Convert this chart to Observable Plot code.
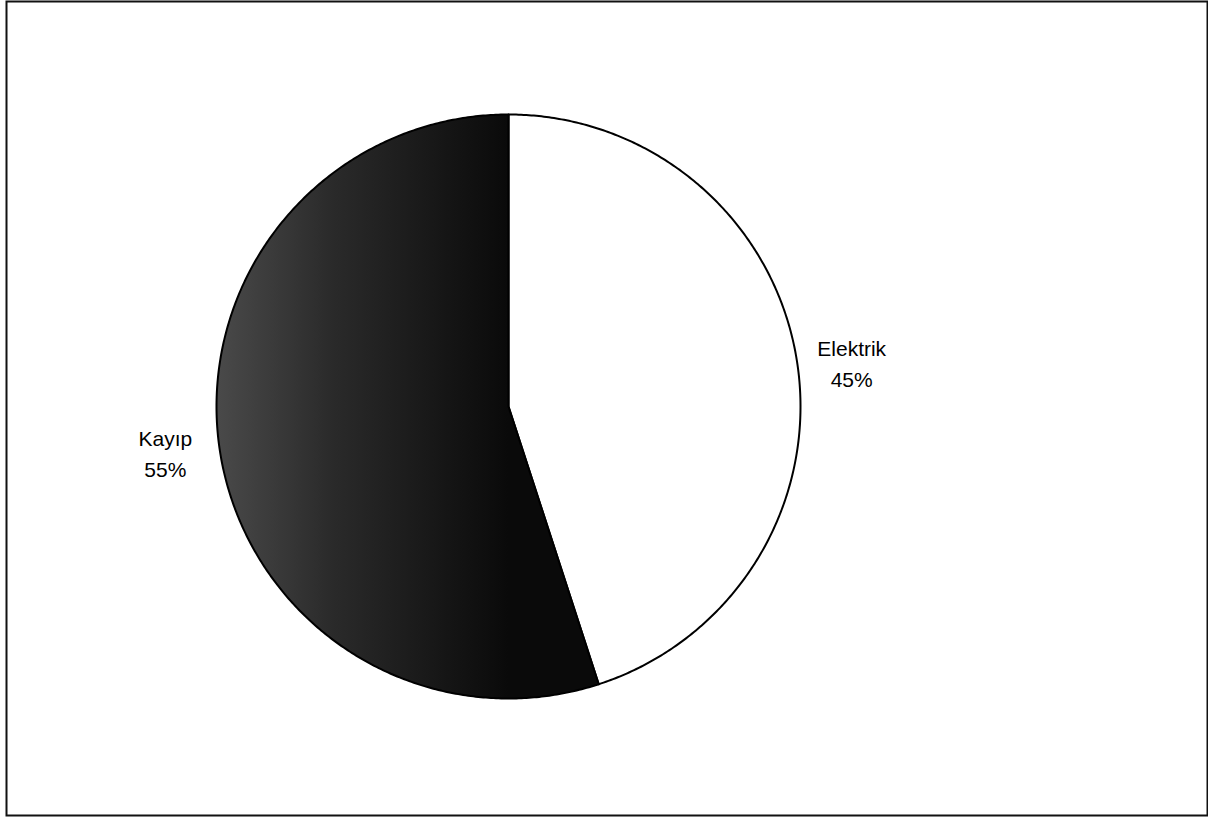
<!DOCTYPE html>
<html>
<head>
<meta charset="utf-8">
<script src="https://cdn.jsdelivr.net/npm/d3@7"></script>
<script src="https://cdn.jsdelivr.net/npm/@observablehq/plot@0.6"></script>
<style>
  html, body { margin: 0; padding: 0; background: #fff; }
  #chart svg { display: block; }
</style>
</head>
<body>
<div id="chart"></div>
<script>
// Data
const categories = ["Elektrik", "Kayıp"];
const values = [45, 55];
const percentLabels = ["45%", "55%"];

// Layout
const W = 1208, H = 817;
const mL = 6, mR = 1, mT = 1, mB = 2;
const cx = 508, cy = 406, R = 292;

const arcs = d3.pie().sort(null).value((d, i) => values[i])(categories);

// Slice outlines (unit-circle geometry from pie angles)
const pts = [];
arcs.forEach((a, i) => {
  const cat = categories[i];
  pts.push({cat, x: 0, y: 0});
  const n = Math.max(2, Math.ceil((a.endAngle - a.startAngle) / (Math.PI / 360)));
  for (let k = 0; k <= n; k++) {
    const t = a.startAngle + (a.endAngle - a.startAngle) * k / n;
    pts.push({cat, x: Math.sin(t), y: Math.cos(t)});
  }
});

const labelRx = 1.19, labelRy = 0.98;
const labelData = arcs.map((a, i) => {
  const m = (a.startAngle + a.endAngle) / 2;
  return {text: categories[i] + "\n" + percentLabels[i], x: labelRx * Math.sin(m), y: labelRy * Math.cos(m)};
});

const chart = Plot.plot({
  width: W, height: H,
  marginLeft: mL, marginRight: mR, marginTop: mT, marginBottom: mB,
  x: {domain: [-(cx - mL) / R, (W - mR - cx) / R], axis: null},
  y: {domain: [-(H - mB - cy) / R, (cy - mT) / R], axis: null},
  color: {type: "ordinal", domain: categories, range: ["#ffffff", "url(#kayipGrad)"]},
  style: {fontFamily: "'Liberation Sans', Arial, sans-serif", background: "#fff"},
  marks: [
    Plot.line(pts, {x: "x", y: "y", z: "cat", fill: "cat", stroke: "#000", strokeWidth: 2, curve: "linear-closed"}),
    Plot.text(labelData, {x: "x", y: "y", text: "text", fontSize: 21, fill: "#000", lineHeight: 1.48, textAnchor: "middle"}),
    Plot.frame({stroke: "#111", strokeWidth: 2})
  ]
});

// gradient for the dark slice
const ns = "http://www.w3.org/2000/svg";
const defs = document.createElementNS(ns, "defs");
defs.innerHTML = `<linearGradient id="kayipGrad" gradientUnits="userSpaceOnUse" x1="215" y1="0" x2="508" y2="0">
  <stop offset="0" stop-color="#4a4a4a"/>
  <stop offset="0.4" stop-color="#2a2a2a"/>
  <stop offset="1" stop-color="#0a0a0a"/>
</linearGradient>`;
chart.insertBefore(defs, chart.firstChild);

document.getElementById("chart").appendChild(chart);
</script>
</body>
</html>
